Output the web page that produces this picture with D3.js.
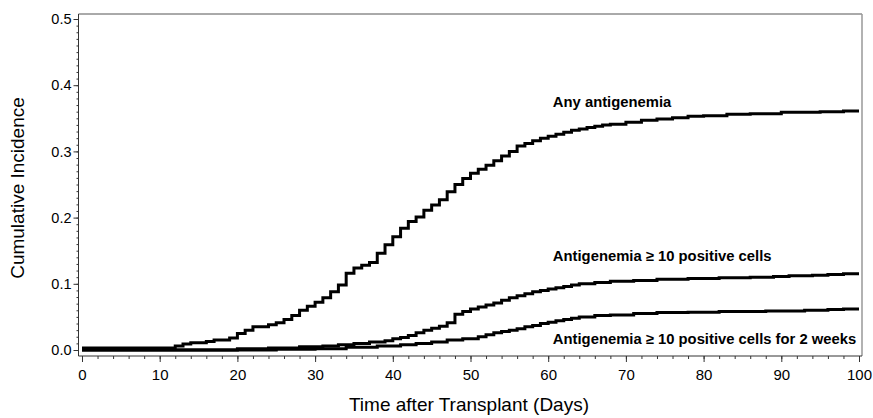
<!DOCTYPE html>
<html>
<head>
<meta charset="utf-8">
<script src="https://cdn.jsdelivr.net/npm/d3@7"></script>
<style>
  html, body { margin: 0; padding: 0; background: #fff; }
  svg { display: block; font-family: "Liberation Sans", Arial, sans-serif; }
</style>
</head>
<body>
<svg id="chart" width="873" height="418"></svg>
<script>
// Cumulative incidence step curves (day of step, value from that day on)
const anyDays = [0, 12, 13, 14, 16, 17, 19, 20, 21, 22, 24, 25, 26, 27, 28, 29, 30, 31, 32, 33, 34, 35, 36, 37, 38, 39, 40,
  41, 42, 43, 44, 45, 46, 47, 48, 49, 50, 51, 52, 53, 54, 55, 56, 57, 58, 59, 60, 61, 62, 63, 64, 65, 66, 67, 68,
  70, 72, 74, 76, 78, 80, 83, 86, 90, 95, 98];
const anyValues = [0.003, 0.006, 0.009, 0.011, 0.013, 0.015, 0.018, 0.025, 0.030, 0.035, 0.038, 0.041, 0.046, 0.052, 0.060,
  0.066, 0.072, 0.079, 0.088, 0.098, 0.116, 0.124, 0.128, 0.132, 0.146, 0.159, 0.171, 0.184, 0.194, 0.201, 0.211,
  0.219, 0.227, 0.239, 0.250, 0.259, 0.267, 0.273, 0.279, 0.286, 0.293, 0.300, 0.308, 0.312, 0.316, 0.320, 0.323,
  0.326, 0.329, 0.332, 0.334, 0.336, 0.338, 0.340, 0.341, 0.344, 0.347, 0.349, 0.351, 0.353, 0.354, 0.356, 0.357,
  0.359, 0.360, 0.361];

const tenDays = [0, 20, 24, 28, 31, 33, 35, 37, 39, 40, 41, 42, 43, 44, 45, 46, 47, 48, 49, 50, 51, 52, 53, 54, 55, 56,
  57, 58, 59, 60, 61, 62, 63, 64, 66, 68, 71, 74, 78, 82, 86, 89, 91, 94, 96, 98];
const tenValues = [0.0, 0.002, 0.003, 0.005, 0.006, 0.008, 0.010, 0.012, 0.014, 0.017, 0.019, 0.022, 0.026, 0.030, 0.033,
  0.036, 0.041, 0.054, 0.058, 0.062, 0.065, 0.068, 0.071, 0.075, 0.079, 0.082, 0.085, 0.088, 0.090, 0.092, 0.094,
  0.096, 0.098, 0.100, 0.102, 0.104, 0.105, 0.107, 0.108, 0.109, 0.110, 0.111, 0.112, 0.113, 0.114, 0.115];

const twoWeekDays = [0, 25, 30, 34, 38, 41, 43, 45, 47, 49, 51, 52, 53, 54, 55, 56, 57, 58, 59, 60, 61, 62, 63, 64, 66,
  68, 71, 74, 78, 82, 88, 93, 96, 98];
const twoWeekValues = [0.0, 0.001, 0.002, 0.004, 0.006, 0.008, 0.010, 0.012, 0.015, 0.017, 0.020, 0.023, 0.026, 0.028,
  0.030, 0.032, 0.035, 0.037, 0.040, 0.042, 0.044, 0.046, 0.048, 0.050, 0.052, 0.053, 0.055, 0.0565, 0.057, 0.058,
  0.059, 0.060, 0.061, 0.062];

const seriesNames = ["Any antigenemia", "Antigenemia \u2265 10 positive cells",
  "Antigenemia \u2265 10 positive cells for 2 weeks"];
const labelAnchors = [[60.6, 0.367], [60.6, 0.134], [60.6, 0.0085]]; // [day, value] at each label's baseline start

const xTicks = [0, 10, 20, 30, 40, 50, 60, 70, 80, 90, 100];
const yTicks = [0.0, 0.1, 0.2, 0.3, 0.4, 0.5];
const xTitle = "Time after Transplant (Days)";
const yTitle = "Cumulative Incidence";
const lastDay = 100;

const svg = d3.select("#chart");
const frame = { left: 78.5, right: 862, top: 14, bottom: 356 };

const x = d3.scaleLinear().domain([0, 100]).range([82, 859]);
const y = d3.scaleLinear().domain([0, 0.5]).range([350, 19]);

// plot frame
svg.append("line").attr("x1", frame.left).attr("x2", frame.right).attr("y1", frame.top).attr("y2", frame.top)
  .attr("stroke", "#555").attr("stroke-width", 1);
svg.append("line").attr("x1", frame.right).attr("x2", frame.right).attr("y1", frame.top).attr("y2", frame.bottom)
  .attr("stroke", "#999").attr("stroke-width", 1.5);

// y axis with minor ticks every 0.01
const yAxisG = svg.append("g").attr("transform", `translate(${frame.left},0)`);
yAxisG.call(d3.axisLeft(y).tickValues(d3.range(0, 0.5001, 0.01)).tickSize(2).tickFormat(""));
yAxisG.call(g => g.select(".domain").remove());
const yMajor = svg.append("g").attr("transform", `translate(${frame.left},0)`)
  .call(d3.axisLeft(y).tickValues(yTicks).tickSize(5).tickPadding(2).tickFormat(d3.format(".1f")));
yMajor.select(".domain").remove();
yMajor.selectAll("text").attr("font-size", 14.5).attr("fill", "#000").attr("font-family", "Liberation Sans, Arial, sans-serif");
svg.append("line").attr("x1", frame.left).attr("x2", frame.left).attr("y1", frame.top).attr("y2", frame.bottom)
  .attr("stroke", "#333").attr("stroke-width", 1);

// x axis with minor ticks every 2 days
const xAxisG = svg.append("g").attr("transform", `translate(0,${frame.bottom})`);
xAxisG.call(d3.axisBottom(x).tickValues(d3.range(0, 101, 2)).tickSize(3).tickFormat(""));
xAxisG.select(".domain").remove();
const xMajor = svg.append("g").attr("transform", `translate(0,${frame.bottom})`)
  .call(d3.axisBottom(x).tickValues(xTicks).tickSize(6).tickPadding(7));
xMajor.select(".domain").remove();
xMajor.selectAll("text").attr("font-size", 15).attr("fill", "#000").attr("font-family", "Liberation Sans, Arial, sans-serif");
svg.append("line").attr("x1", frame.left).attr("x2", frame.right).attr("y1", frame.bottom).attr("y2", frame.bottom)
  .attr("stroke", "#333").attr("stroke-width", 1);
svg.selectAll("g.tick line").attr("stroke", "#333");

// axis titles
svg.append("text").attr("x", 469).attr("y", 411).attr("text-anchor", "middle")
  .attr("font-size", 19).attr("fill", "#000").text(xTitle);
svg.append("text").attr("transform", "translate(24,188) rotate(-90)").attr("text-anchor", "middle")
  .attr("font-size", 19).attr("fill", "#000").text(yTitle);

// step curves
const line = d3.line().x(d => x(d[0])).y(d => y(d[1])).curve(d3.curveStepAfter);
const series = [[anyDays, anyValues], [tenDays, tenValues], [twoWeekDays, twoWeekValues]];
series.forEach(([days, vals]) => {
  const pts = days.map((d, i) => [d, vals[i]]);
  pts.push([lastDay, vals[vals.length - 1]]);
  svg.append("path").datum(pts).attr("d", line)
    .attr("fill", "none").attr("stroke", "#000").attr("stroke-width", 3).attr("stroke-linejoin", "miter");
});

// curve labels
seriesNames.forEach((name, i) => {
  svg.append("text").attr("x", x(labelAnchors[i][0])).attr("y", y(labelAnchors[i][1]))
    .attr("font-size", 14.8).attr("font-weight", "bold").attr("fill", "#000").text(name);
});
</script>
</body>
</html>
